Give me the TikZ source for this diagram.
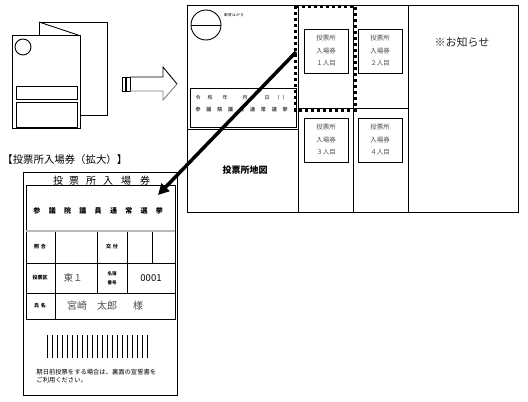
\documentclass[tikz,border=0pt]{standalone}
\usepackage{fontspec}
\setmainfont{Noto Sans CJK JP}
\usetikzlibrary{arrows.meta}
\definecolor{inkgray}{gray}{0.3}
\tikzset{
  lbl/.style={inner sep=0pt},
  ticket/.style={draw, minimum width=44pt, minimum height=44pt, inner sep=0pt, align=center,
    font=\fontsize{6.5}{12.5}\selectfont, text=inkgray},
  dotline/.style={line width=3pt, dash pattern=on 3pt off 3pt},
}

\begin{document}
\begin{tikzpicture}[x=1pt,y=-1pt,line width=0.9pt]
			\useasboundingbox (0,0) rectangle (528,402);
			% folded leaflet
			\draw (39,22) rectangle (107,115);
			\draw (39,22) -- (78,35);
			\draw[fill=white] (12,35) rectangle (80,128);
			\draw (23,47) circle (8);
			\draw (16,86) rectangle (77,99);
			\draw (16,102) rectangle (77,127);
			% hollow arrow
			\draw (122,77) rectangle (125,91);
			\draw (126,77) rectangle (130,91);
			\draw (130,77) -- (163,77) -- (163,67) -- (177,84);
			\draw[gray] (177,84) -- (163,100) -- (163,91) -- (130,91);
			% opened leaflet
			\draw (187,5) rectangle (298,212);
			\draw (187,129) -- (298,129);
			\draw (190,88) rectangle (296,127);
			\draw (206,25) circle (15);
			\draw (191,25) -- (221,25);
			\node[lbl, font=\fontsize{3.5}{4}\selectfont] (post) at (234,15) {郵\,便\,は\,が\,き};
			\foreach \c/\x [count=\i] in {令/198, 和/210, 年/225, 月/245, 日/267, （/277, ）/285} {
				\node[lbl, font=\fontsize{5}{6}\selectfont] (date\i) at (\x,98) {\c};
			}
			\foreach \c [count=\i] in {参,議,院,議,員,通,常,選,挙} {
				\node[lbl, font=\fontsize{5}{6}\selectfont\bfseries, text=inkgray] (elec\i) at ({198+10.9*(\i-1)},110) {\c};
			}
			\node[lbl, font=\fontsize{9}{10}\selectfont\bfseries] (map) at (245,170) {投票所地図};
			\draw (298,5) rectangle (518,212);
			\draw (353,5) -- (353,212);
			\draw (408,5) -- (408,212);
			\draw (298,108) -- (408,108);
			\node[ticket] (t1) at (326,51) {投票所\\入場券\\１人目};
			\node[ticket] (t2) at (380,51) {投票所\\入場券\\２人目};
			\node[ticket] (t3) at (326,140) {投票所\\入場券\\３人目};
			\node[ticket] (t4) at (380,140) {投票所\\入場券\\４人目};
			\node[lbl, font=\fontsize{11}{12}\selectfont, text=black!85] (info) at (462,42) {※お知らせ};
			\draw[dotline] (295,6) rectangle (355,110);
			% enlarged ticket
			\node[lbl, anchor=west, font=\fontsize{10.4}{12}\selectfont] (cap) at (2,160) {【投票所入場券（拡大）】};
			\draw (23,172) rectangle (177,395);
			\foreach \c/\x [count=\i] in {投/58, 票/74, 所/91, 入/108, 場/126, 券/145} {
				\node[lbl, font=\fontsize{10}{11}\selectfont] (head\i) at (\x,181) {\c};
			}
			\draw (26,185) rectangle (175,319);
			\foreach \c [count=\i] in {参,議,院,議,員,通,常,選,挙} {
				\node[lbl, font=\fontsize{7}{8}\selectfont\bfseries] (kind\i) at ({37+15.3*(\i-1)},211) {\c};
			}
			\draw[gray!55, line width=1.6pt] (26,231) -- (175,231);
			\draw (26,263) -- (175,263);
			\draw (26,293) -- (175,293);
			\draw (55,232) -- (55,319);
			\draw (97,232) -- (97,293);
			\draw (127,232) -- (127,293);
			\draw (152,232) -- (152,263);
			\node[lbl, font=\fontsize{5}{6}\selectfont\bfseries] (chk) at (40,247) {照\,\,合};
			\node[lbl, font=\fontsize{5}{6}\selectfont\bfseries] (give) at (112,247) {交\,\,付};
			\node[lbl, font=\fontsize{5}{6}\selectfont\bfseries] (ward) at (40,278) {投票区};
			\node[lbl, font=\fontsize{9.5}{10}\selectfont, text=inkgray] (wardno) at (73,278) {東１};
			\node[lbl, align=center, font=\fontsize{4.5}{9}\selectfont\bfseries] (reg) at (112,278) {名簿\\番号};
			\node[lbl, font=\fontsize{9.5}{10}\selectfont] (regno) at (151,278) {0001};
			\node[lbl, font=\fontsize{5}{6}\selectfont\bfseries] (nm) at (40,306) {氏\,\,名};
			\node[lbl, font=\fontsize{10}{11}\selectfont, text=inkgray] (person) at (105,306) {宮崎\hspace{10pt}太郎\hspace{16pt}様};
			\foreach \j in {0, 1, ..., 20} {
				\draw (47+5*\j,335) -- (47+5*\j,358);
			}
			\node[lbl, anchor=north west, align=left, font=\fontsize{6.3}{8}\selectfont] (note) at (36,369)
				{期日前投票をする場合は、裏面の宣誓書を\\ご利用ください。};
			% pointer arrow
			\coordinate (src) at (296,52);
			\coordinate (dst) at (158,195);
			\draw[line width=3.5pt, -{Triangle[length=11pt,width=11pt]}] (src) -- (dst);
		\end{tikzpicture}
\end{document}
